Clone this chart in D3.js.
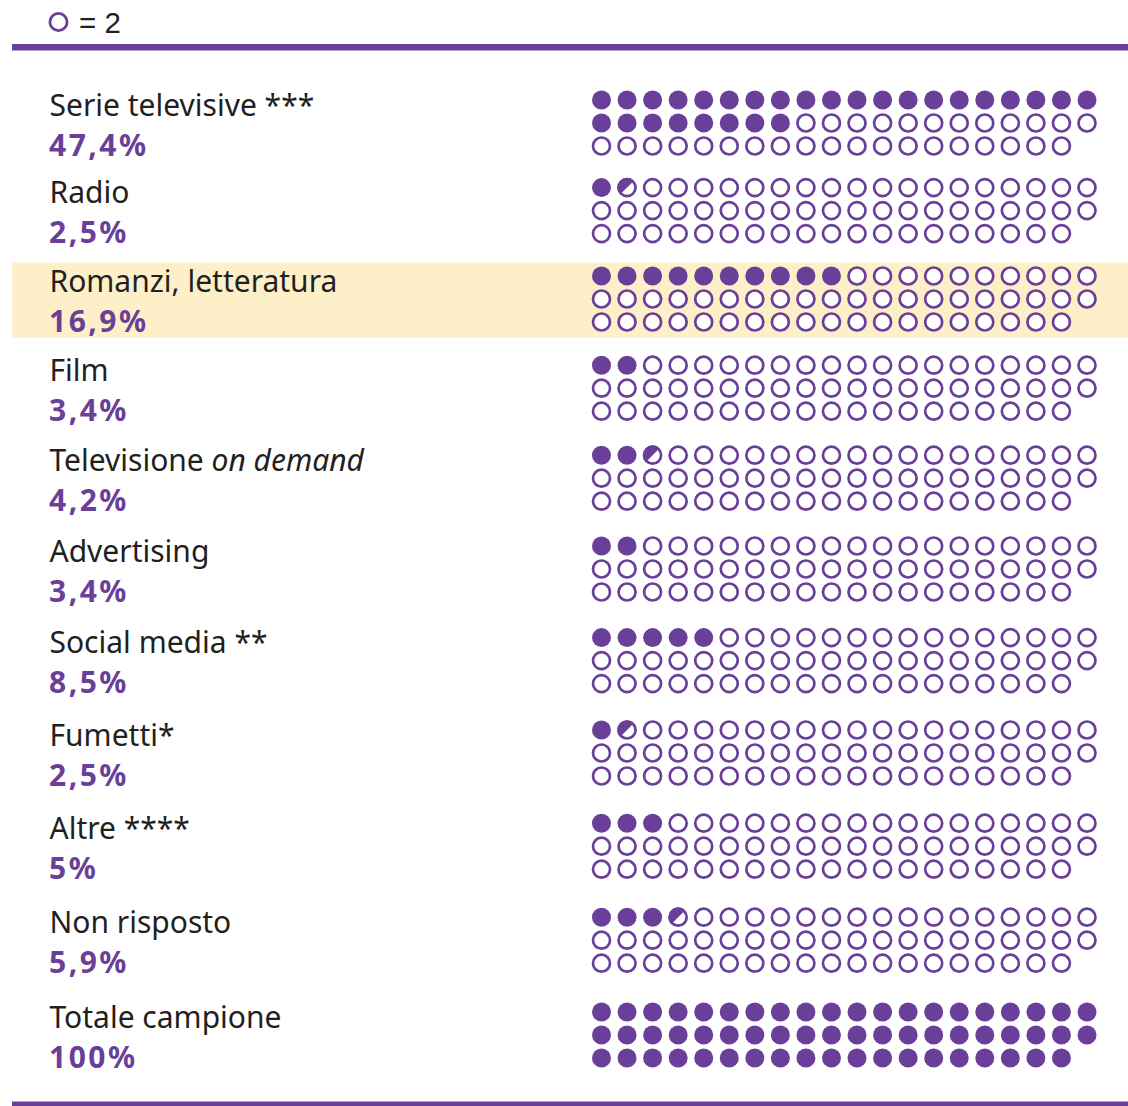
<!DOCTYPE html>
<html lang="it">
<head>
<meta charset="utf-8">
<title>Pittogramma</title>
<script src="https://cdn.jsdelivr.net/npm/d3@7"></script>
<style>
  html, body { margin: 0; padding: 0; background: #ffffff; }
  svg { display: block; }
</style>
</head>
<body>
<div id="chart"></div>
<script>
// Categories, shares (%) and sample information
const categories = [
  "Serie televisive ***",
  "Radio",
  "Romanzi, letteratura",
  "Film",
  "Televisione on demand",
  "Advertising",
  "Social media **",
  "Fumetti*",
  "Altre ****",
  "Non risposto",
  "Totale campione"
];
const percentages = [47.4, 2.5, 16.9, 3.4, 4.2, 3.4, 8.5, 2.5, 5, 5.9, 100];
const highlighted = ["Romanzi, letteratura"];
const italicWords = ["on demand"];
const sampleSize = 118;   // respondents
const unitValue = 2;      // respondents per symbol
const perRow = 20;        // symbols per line

const W = 1128, H = 1106;
const purple = "#6a3f99";
const ink = "#231f20";
const band = "#fdf0c8";

const svg = d3.select("#chart").append("svg")
  .attr("width", W).attr("height", H)
  .attr("viewBox", `0 0 ${W} ${H}`);

// Legend: one symbol = 2
const legend = svg.append("g");
legend.append("circle")
  .attr("cx", 58.5).attr("cy", 22).attr("r", 8.6)
  .attr("fill", "none").attr("stroke", purple).attr("stroke-width", 2.8);
legend.append("text")
  .attr("x", 79).attr("y", 33)
  .attr("font-family", "'Liberation Sans', Arial, sans-serif")
  .attr("font-size", 29.5).attr("fill", ink)
  .text("= " + unitValue);

// Rules at top and bottom
svg.append("rect").attr("x", 12).attr("y", 44).attr("width", W - 12).attr("height", 6.5).attr("fill", purple);
svg.append("rect").attr("x", 12).attr("y", 1101.5).attr("width", W - 12).attr("height", 6.5).attr("fill", purple);

// Group layout: spacing grows slightly towards the bottom
const groupY = i => 100 + i * 87.6 + 0.4 * i * (i - 1);

const totalSymbols = sampleSize / unitValue;
const colX = d3.scaleLinear().domain([0, perRow - 1]).range([601.5, 1087]);
const rowY = d3.scaleLinear().domain([0, 1]).range([0, 23]);

const fmtPct = p => String(p).replace(".", ",") + "%";

const data = categories.map((c, i) => {
  const respondents = Math.round(percentages[i] / 100 * sampleSize);
  return { name: c, pct: percentages[i], symbols: respondents / unitValue, i };
});

const groups = svg.selectAll("g.cat").data(data).join("g")
  .attr("class", "cat")
  .attr("transform", d => `translate(0,${groupY(d.i)})`);

// Highlight band
groups.filter(d => highlighted.includes(d.name))
  .append("rect")
  .attr("x", 12).attr("y", -13.5).attr("width", W - 12).attr("height", 75.2)
  .attr("fill", band);

// Category label (with italic words)
const labels = groups.append("text")
  .attr("x", 49.5).attr("y", 15.5)
  .attr("font-family", "'Noto Sans', sans-serif")
  .attr("font-size", 30).attr("fill", ink);
labels.each(function(d) {
  const t = d3.select(this);
  const it = italicWords.find(w => d.name.includes(w));
  if (it) {
    const [a, b] = d.name.split(it);
    t.append("tspan").text(a);
    t.append("tspan").attr("font-style", "italic").text(it);
    if (b) t.append("tspan").text(b);
  } else {
    t.text(d.name);
  }
});

// Percentage value
groups.append("text")
  .attr("x", 49).attr("y", 55.5)
  .attr("font-family", "'Noto Sans', sans-serif")
  .attr("font-weight", 700)
  .attr("font-size", 30)
  .attr("letter-spacing", 2.5)
  .attr("fill", purple)
  .text(d => fmtPct(d.pct));

// Symbols
const rFull = 9.5, rRing = 8.5, ringW = 2.7;
const wedge = d3.arc().innerRadius(0).outerRadius(rRing + ringW / 2);

groups.each(function(d) {
  const g = d3.select(this);
  const slots = d3.range(totalSymbols).map(k => {
    const fill = Math.max(0, Math.min(1, d.symbols - k));
    return { k, fill };
  });
  const sym = g.selectAll("g.sym").data(slots).join("g")
    .attr("class", "sym")
    .attr("transform", s => `translate(${colX(s.k % perRow)},${rowY(Math.floor(s.k / perRow))})`);

  sym.filter(s => s.fill >= 1)
    .append("circle").attr("r", rFull).attr("fill", purple);

  const open = sym.filter(s => s.fill < 1);
  open.append("circle")
    .attr("r", rRing).attr("fill", "#ffffff")
    .attr("stroke", purple).attr("stroke-width", ringW);
  open.filter(s => s.fill > 0)
    .append("path")
    .attr("fill", purple)
    .attr("d", s => wedge({ startAngle: -3 * Math.PI / 4, endAngle: -3 * Math.PI / 4 + s.fill * 2 * Math.PI }));
});
</script>
</body>
</html>
